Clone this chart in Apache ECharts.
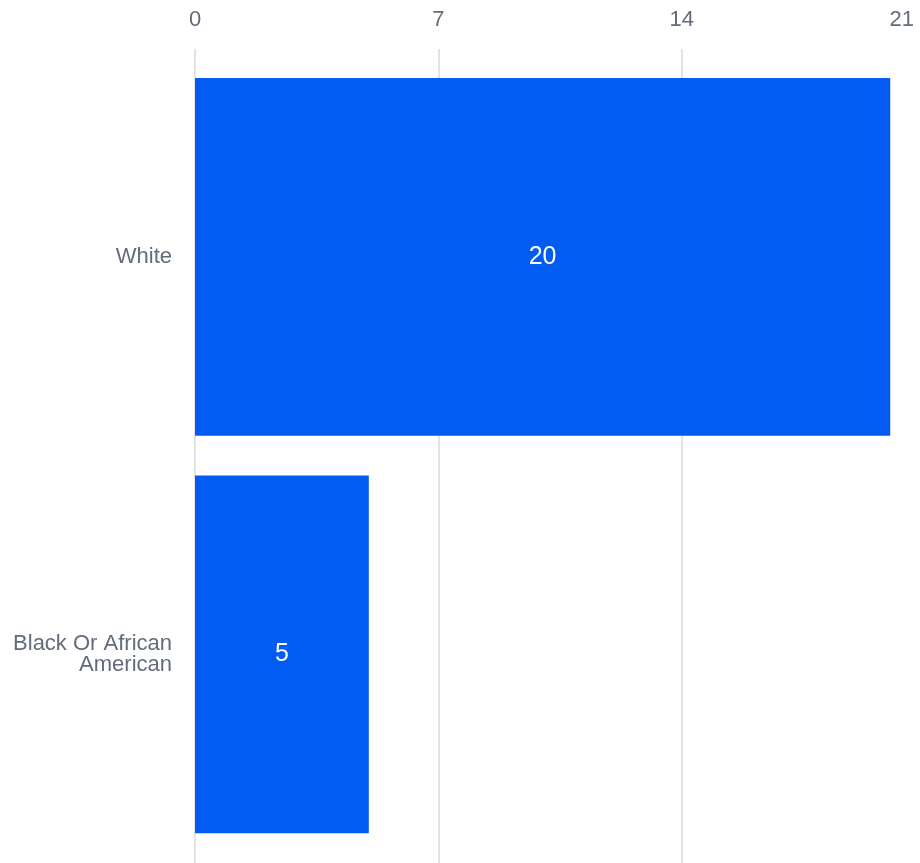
<!DOCTYPE html>
<html>
<head>
<meta charset="utf-8">
<script src="https://cdn.jsdelivr.net/npm/echarts@6/dist/echarts.min.js"></script>
<style>html,body{margin:0;padding:0;background:#fff;}#c{width:920px;height:863px;}</style>
</head>
<body>
<div id="c"></div>
<script>
const categories = ['White', 'Black Or African American'];
const counts = [20, 5];
const axisMin = 0, axisMax = 21, axisStep = 7;

const chart = echarts.init(document.getElementById('c'), null, {renderer: 'canvas'});
const labelColor = '#636c7c';
const font = '"Liberation Sans", Arial, sans-serif';
chart.setOption({
  animation: false,
  grid: [
    {left: 195, width: 730, top: 58, bottom: 10, outerBoundsMode: 'none', containLabel: false},
    {left: 195, width: 730, top: 49, bottom: 0, outerBoundsMode: 'none', containLabel: false}
  ],
  xAxis: [
    {gridIndex: 0, type: 'value', min: axisMin, max: axisMax, interval: axisStep, show: false, splitLine: {show: false}},
    {gridIndex: 1, type: 'value', min: axisMin, max: axisMax, interval: axisStep, position: 'top',
     axisLine: {show: false}, axisTick: {show: false},
     splitLine: {show: true, lineStyle: {color: '#e3e3e3', width: 2}},
     axisLabel: {show: true, margin: 18, color: labelColor, fontSize: 22, fontFamily: font,
                 alignMaxLabel: 'right',
                 formatter: function(v){ return v === axisMax ? '{r|' + v + '}' : String(v); },
                 rich: {r: {fontSize: 22, fontFamily: font, color: labelColor, padding: [0, 11, 0, 0]}}}}
  ],
  yAxis: [
    {gridIndex: 0, type: 'category', data: categories, inverse: true,
     axisLine: {show: false}, axisTick: {show: false}, splitLine: {show: false},
     axisLabel: {margin: 23, color: labelColor, fontSize: 22, fontFamily: font, lineHeight: 21,
                 padding: [8, 0, 0, 0],
                 formatter: function(v){ return v.replace('African ', 'African\n'); },
                 align: 'right'}},
    {gridIndex: 1, type: 'category', data: categories, show: false}
  ],
  series: [{
    type: 'bar', xAxisIndex: 0, yAxisIndex: 0, data: counts,
    barCategoryGap: '10%',
    itemStyle: {color: '#025cf2'},
    label: {show: true, position: 'inside', color: '#ffffff', fontSize: 25, fontFamily: font}
  }]
});
</script>
</body>
</html>
